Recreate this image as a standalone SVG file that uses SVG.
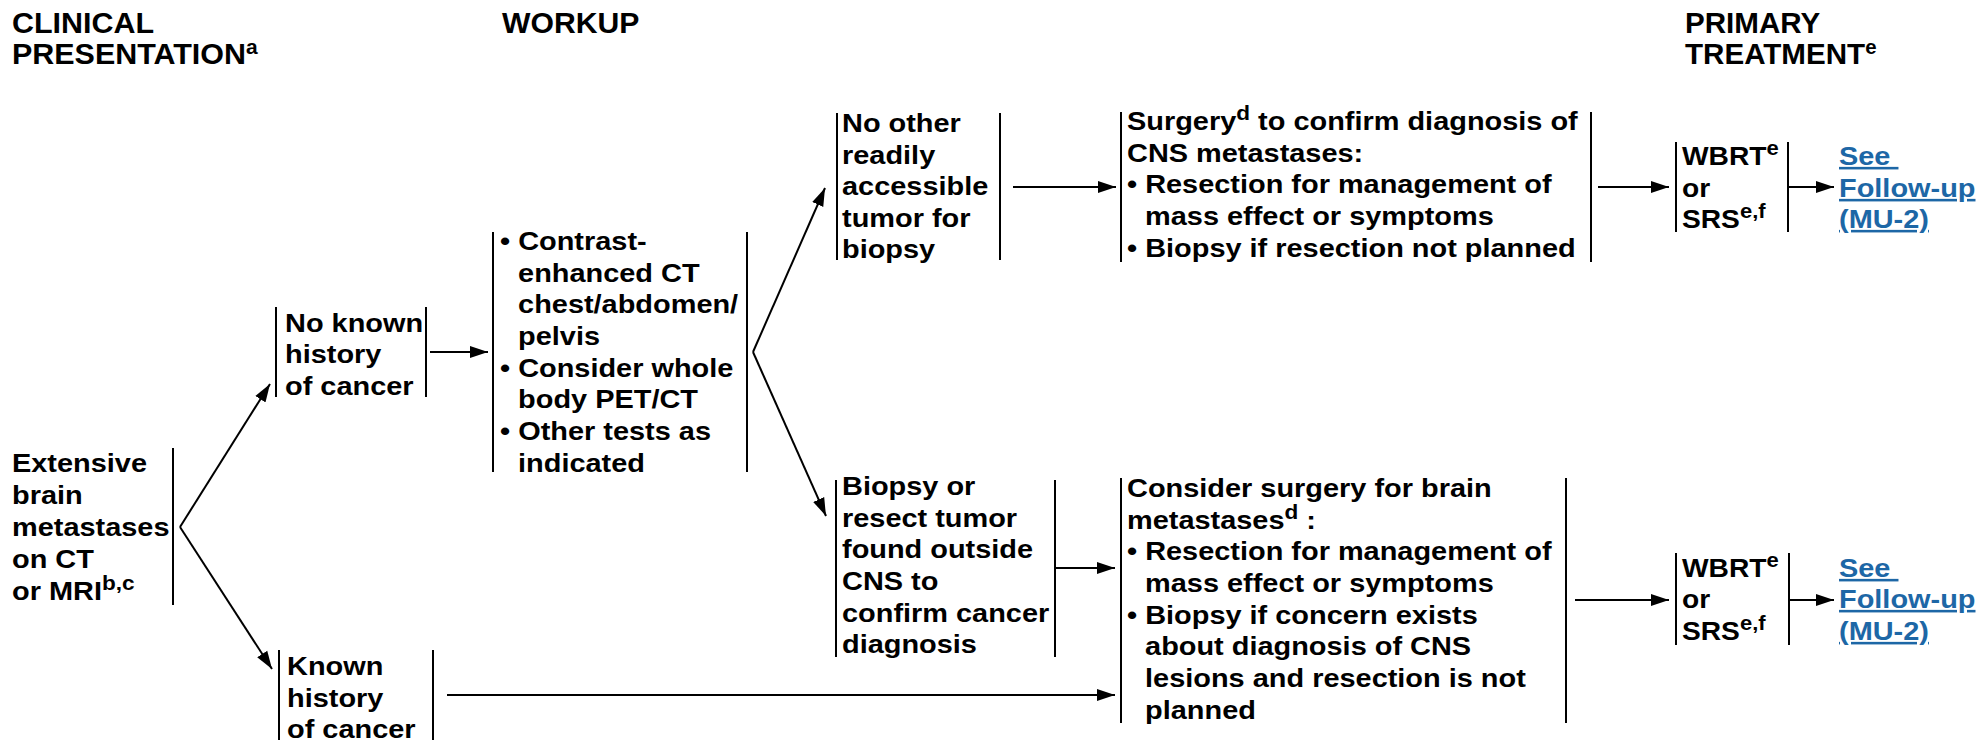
<svg xmlns="http://www.w3.org/2000/svg" width="1982" height="740" viewBox="0 0 1982 740">
<defs>
<style>
text{font-family:"Liberation Sans",Arial,Helvetica,sans-serif;font-weight:bold;fill:#000}
.b{font-size:25.6px}
.h{font-size:29px}
.sup{font-size:20px}
.hs{font-size:20px}
.lnk{fill:#1d67a6;text-decoration:underline}
.bar{stroke:#000;stroke-width:2;fill:none}
.c{stroke:#000;stroke-width:2;fill:none;marker-end:url(#ah)}
</style>
<marker id="ah" markerUnits="userSpaceOnUse" markerWidth="19" markerHeight="13" refX="18" refY="6.5" orient="auto"><path d="M0,0.5 L18,6.5 L0,12.5 z" fill="#000"/></marker>
</defs>
<rect width="1982" height="740" fill="#fff"/>

<g id="headers">
<text class="h" transform="matrix(1.05 0 0 1 12 0)"><tspan x="0" y="33">CLINICAL</tspan><tspan x="0" y="64">PRESENTATION</tspan><tspan class="hs" dy="-10">a</tspan></text>
<text class="h" transform="matrix(1.04 0 0 1 502 0)"><tspan x="0" y="33">WORKUP</tspan></text>
<text class="h" transform="matrix(1.02 0 0 1 1685 0)"><tspan x="0" y="33">PRIMARY</tspan><tspan x="0" y="64">TREATMENT</tspan><tspan class="hs" dy="-10">e</tspan></text>
</g>

<g id="node-clin">
<text class="b" transform="matrix(1.13 0 0 1 12 0)"><tspan x="0" y="472">Extensive</tspan><tspan x="0" y="504">brain</tspan><tspan x="0" y="536">metastases</tspan><tspan x="0" y="568">on CT</tspan><tspan x="0" y="600">or MRI</tspan><tspan class="sup" dy="-10">b,c</tspan></text>
<line class="bar" x1="173" y1="448" x2="173" y2="605"/>
</g>

<g id="node-noknown">
<line class="bar" x1="276" y1="307" x2="276" y2="397"/>
<text class="b" transform="matrix(1.13 0 0 1 285 0)"><tspan x="0" y="332">No known</tspan><tspan x="0" y="363">history</tspan><tspan x="0" y="395">of cancer</tspan></text>
<line class="bar" x1="426" y1="307" x2="426" y2="397"/>
</g>

<g id="node-known">
<line class="bar" x1="279" y1="650" x2="279" y2="740"/>
<text class="b" transform="matrix(1.13 0 0 1 287 0)"><tspan x="0" y="675">Known</tspan><tspan x="0" y="707">history</tspan><tspan x="0" y="738">of cancer</tspan></text>
<line class="bar" x1="433" y1="650" x2="433" y2="740"/>
</g>

<g id="node-workup">
<line class="bar" x1="493" y1="232" x2="493" y2="472"/>
<text class="b" transform="matrix(1.13 0 0 1 500 0)"><tspan x="0" y="250">• Contrast-</tspan><tspan x="16" y="282">enhanced CT</tspan><tspan x="16" y="313">chest/abdomen/</tspan><tspan x="16" y="345">pelvis</tspan><tspan x="0" y="377">• Consider whole</tspan><tspan x="16" y="408">body PET/CT</tspan><tspan x="0" y="440">• Other tests as</tspan><tspan x="16" y="472">indicated</tspan></text>
<line class="bar" x1="747" y1="232" x2="747" y2="472"/>
</g>

<g id="node-noother">
<line class="bar" x1="837" y1="113" x2="837" y2="260"/>
<text class="b" transform="matrix(1.13 0 0 1 842 0)"><tspan x="0" y="132">No other</tspan><tspan x="0" y="164">readily</tspan><tspan x="0" y="195">accessible</tspan><tspan x="0" y="227">tumor for</tspan><tspan x="0" y="258">biopsy</tspan></text>
<line class="bar" x1="1000" y1="113" x2="1000" y2="260"/>
</g>

<g id="node-biopsy">
<line class="bar" x1="836" y1="480" x2="836" y2="657"/>
<text class="b" transform="matrix(1.13 0 0 1 842 0)"><tspan x="0" y="495">Biopsy or</tspan><tspan x="0" y="527">resect tumor</tspan><tspan x="0" y="558">found outside</tspan><tspan x="0" y="590">CNS to</tspan><tspan x="0" y="622">confirm cancer</tspan><tspan x="0" y="653">diagnosis</tspan></text>
<line class="bar" x1="1055" y1="480" x2="1055" y2="657"/>
</g>

<g id="node-surgery">
<line class="bar" x1="1121" y1="112" x2="1121" y2="262"/>
<text class="b" transform="matrix(1.13 0 0 1 1127 0)"><tspan x="0" y="130">Surgery</tspan><tspan class="sup" dy="-10">d</tspan><tspan dy="10"> to confirm diagnosis of</tspan><tspan x="0" y="162">CNS metastases:</tspan><tspan x="0" y="193">• Resection for management of</tspan><tspan x="16" y="225">mass effect or symptoms</tspan><tspan x="0" y="257">• Biopsy if resection not planned</tspan></text>
<line class="bar" x1="1591" y1="112" x2="1591" y2="262"/>
</g>

<g id="node-consider">
<line class="bar" x1="1121" y1="478" x2="1121" y2="723"/>
<text class="b" transform="matrix(1.13 0 0 1 1127 0)"><tspan x="0" y="497">Consider surgery for brain</tspan><tspan x="0" y="529">metastases</tspan><tspan class="sup" dy="-10">d</tspan><tspan dy="10"> :</tspan><tspan x="0" y="560">• Resection for management of</tspan><tspan x="16" y="592">mass effect or symptoms</tspan><tspan x="0" y="624">• Biopsy if concern exists</tspan><tspan x="16" y="655">about diagnosis of CNS</tspan><tspan x="16" y="687">lesions and resection is not</tspan><tspan x="16" y="719">planned</tspan></text>
<line class="bar" x1="1566" y1="478" x2="1566" y2="723"/>
</g>

<g id="node-tx1">
<line class="bar" x1="1676" y1="142" x2="1676" y2="232"/>
<text class="b" transform="matrix(1.1 0 0 1 1682 0)"><tspan x="0" y="165">WBRT</tspan><tspan class="sup" dy="-10">e</tspan><tspan x="0" y="197">or</tspan><tspan x="0" y="228">SRS</tspan><tspan class="sup" dy="-10">e,f</tspan></text>
<line class="bar" x1="1788" y1="142" x2="1788" y2="232"/>
</g>

<g id="node-fu1">
<text class="b lnk" transform="matrix(1.13 0 0 1 1839 0)"><tspan x="0" y="165">See </tspan><tspan x="0" y="197">Follow-up</tspan><tspan x="0" y="228">(MU-2)</tspan></text>
</g>

<g id="node-tx2">
<line class="bar" x1="1676" y1="553" x2="1676" y2="645"/>
<text class="b" transform="matrix(1.1 0 0 1 1682 0)"><tspan x="0" y="577">WBRT</tspan><tspan class="sup" dy="-10">e</tspan><tspan x="0" y="608">or</tspan><tspan x="0" y="640">SRS</tspan><tspan class="sup" dy="-10">e,f</tspan></text>
<line class="bar" x1="1789" y1="553" x2="1789" y2="645"/>
</g>

<g id="node-fu2">
<text class="b lnk" transform="matrix(1.13 0 0 1 1839 0)"><tspan x="0" y="577">See </tspan><tspan x="0" y="608">Follow-up</tspan><tspan x="0" y="640">(MU-2)</tspan></text>
</g>

<g id="connectors">
<line class="c" x1="180" y1="527" x2="270" y2="384"/>
<line class="c" x1="180" y1="527" x2="272" y2="669"/>
<line class="c" x1="430" y1="352" x2="488" y2="352"/>
<line class="c" x1="753" y1="352" x2="825" y2="188"/>
<line class="c" x1="753" y1="352" x2="826" y2="516"/>
<line class="c" x1="1013" y1="187" x2="1116" y2="187"/>
<line class="c" x1="1598" y1="187" x2="1669" y2="187"/>
<line class="c" x1="1788" y1="187" x2="1834" y2="187"/>
<line class="c" x1="1055" y1="568" x2="1115" y2="568"/>
<line class="c" x1="447" y1="695" x2="1115" y2="695"/>
<line class="c" x1="1575" y1="600" x2="1669" y2="600"/>
<line class="c" x1="1789" y1="600" x2="1834" y2="600"/>
</g>
</svg>
